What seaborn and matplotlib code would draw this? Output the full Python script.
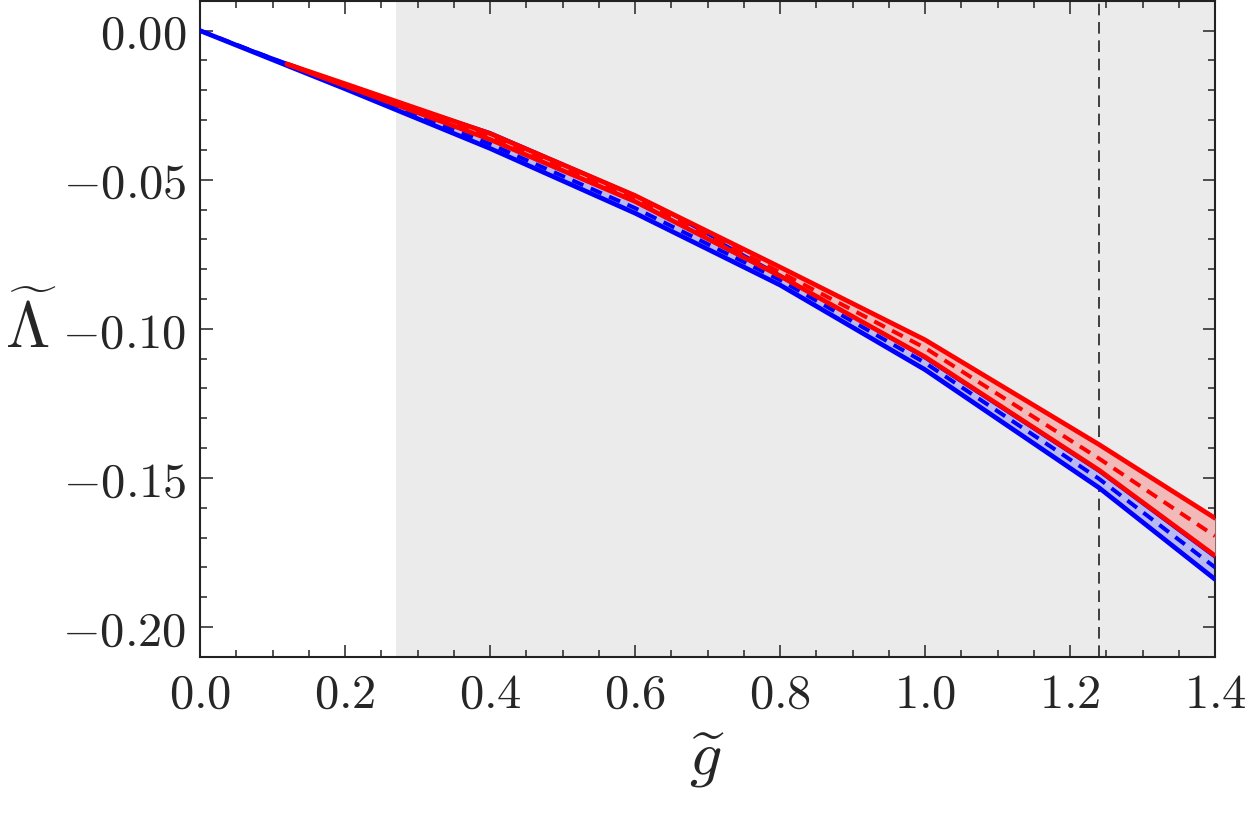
import matplotlib
matplotlib.use("Agg")
import matplotlib.pyplot as plt
import seaborn as sns
from matplotlib.ticker import MultipleLocator

# --- data ---
g_blue = [0.0, 0.2, 0.4, 0.6, 0.8, 1.0, 1.24, 1.4]
blue_lo = [0.0, -0.0195, -0.0395, -0.0612, -0.0853, -0.1137, -0.1533, -0.1840]
blue_mid = [0.0, -0.0188, -0.0380, -0.0595, -0.0836, -0.1114, -0.1503, -0.1800]
blue_hi = [0.0, -0.0180, -0.0340, -0.0550, -0.0818, -0.1100, -0.1480, -0.1768]

g_red = [0.12, 0.2, 0.4, 0.6, 0.8, 1.0, 1.24, 1.4]
red_hi = [-0.0112, -0.0178, -0.0345, -0.0553, -0.0793, -0.1037, -0.1388, -0.1635]
red_mid = [-0.0112, -0.0181, -0.0355, -0.0563, -0.0810, -0.1064, -0.1435, -0.1695]
red_lo = [-0.0112, -0.0185, -0.0365, -0.0573, -0.0823, -0.1094, -0.1474, -0.1761]

shade_from = 0.27
vline_at = 1.24

x_ticks = [0.0, 0.2, 0.4, 0.6, 0.8, 1.0, 1.2, 1.4]
x_labels = [r"$%.1f$" % t for t in x_ticks]
y_ticks = [0.0, -0.05, -0.10, -0.15, -0.20]
y_labels = [r"$0.00$", r"$-0.05$", r"$-0.10$", r"$-0.15$", r"$-0.20$"]

sns.set_theme(style="ticks")
plt.rcParams["mathtext.fontset"] = "cm"
plt.rcParams["font.family"] = ["DejaVu Serif"]

fig, ax = plt.subplots(figsize=(12.5, 8.21), dpi=100)
fig.subplots_adjust(left=0.16, right=0.972, top=0.999, bottom=0.2)

# shaded region and marker line
ax.axvspan(shade_from, 1.4, color="#ebebeb", zorder=0, lw=0)
ax.axvline(vline_at, color="#222222", lw=1.2, ls=(0, (7, 4)), zorder=1)

# bands
ax.fill_between(g_blue, blue_lo, blue_hi, color="#b9b9f2", lw=0, zorder=2)
ax.fill_between(g_red, red_lo, red_hi, color="#f2b9b9", lw=0, zorder=3)

lw = 3.4
sns.lineplot(x=g_blue, y=blue_lo, ax=ax, color="blue", lw=lw, zorder=4)
sns.lineplot(x=g_blue, y=blue_hi, ax=ax, color="blue", lw=1.5, zorder=4)
sns.lineplot(x=g_blue, y=blue_mid, ax=ax, color="blue", lw=lw * 0.85,
             dashes=(3.0, 2.0), zorder=4)
sns.lineplot(x=g_red, y=red_hi, ax=ax, color="red", lw=lw, zorder=5)
sns.lineplot(x=g_red, y=red_lo, ax=ax, color="red", lw=lw, zorder=5)
sns.lineplot(x=g_red, y=red_mid, ax=ax, color="red", lw=lw * 0.85,
             dashes=(3.0, 2.0), zorder=5)

ax.set_xlim(0, 1.4)
ax.set_ylim(-0.21, 0.01)
ax.set_xticks(x_ticks)
ax.set_xticklabels(x_labels, fontsize=35)
ax.set_yticks(y_ticks)
ax.set_yticklabels(y_labels, fontsize=35)
ax.xaxis.set_minor_locator(MultipleLocator(0.05))
ax.yaxis.set_minor_locator(MultipleLocator(0.01))
ax.tick_params(which="both", direction="in", top=True, right=True,
               color="#333333", width=1.2)
ax.tick_params(which="major", length=9, pad=10)
ax.tick_params(which="minor", length=5)
for s in ax.spines.values():
    s.set_linewidth(1.5)
    s.set_color("#222222")

ax.set_xlabel(r"$\widetilde{g}$", fontsize=46, labelpad=8)
ax.set_ylabel(r"$\widetilde{\Lambda}$", fontsize=46, rotation=0, va="center")
ax.yaxis.set_label_coords(-0.167, 0.5)

fig.savefig("out.png", dpi=100)
